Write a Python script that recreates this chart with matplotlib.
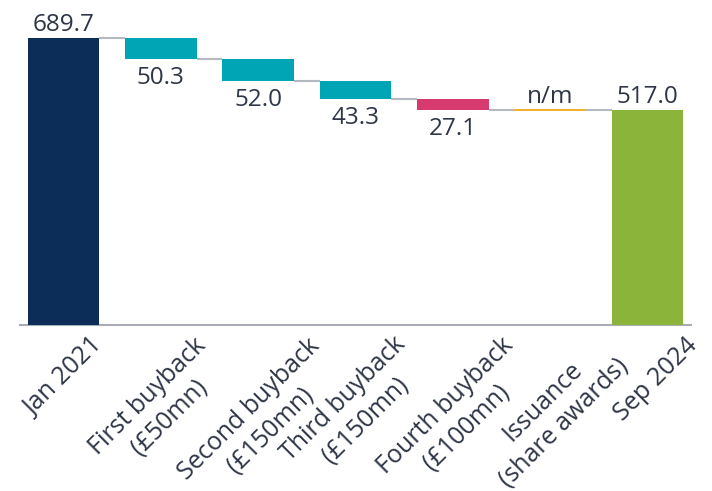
import matplotlib
matplotlib.use("Agg")
import numpy as np
import matplotlib.pyplot as plt
from matplotlib.transforms import ScaledTranslation

plt.rcParams['font.family'] = ['Open Sans', 'DejaVu Sans']

categories = ["Jan 2021", "First buyback\n(£50mn)", "Second buyback\n(£150mn)",
              "Third buyback\n(£150mn)", "Fourth buyback\n(£100mn)",
              "Issuance\n(share awards)", "Sep 2024"]
values = [689.7, -50.3, -52.0, -43.3, -27.1, 0.0, 517.0]
is_total = [True, False, False, False, False, False, True]
value_labels = ["689.7", "50.3", "52.0", "43.3", "27.1", "n/m", "517.0"]
bar_colors = ["#0b2d58", "#00a5b5", "#00a5b5", "#00a5b5", "#d63a6e", "#f0a81c", "#8ab43a"]

# layout: where each rotated tick label's ink ends (right edge, top edge),
# in pixels right of its tick and below the baseline
label_ink_px = [(33.5, 12), (45.2, 13), (59.8, 13), (52.5, 12), (59.2, 13), (77.8, 33), (47.5, 11)]

TXT = "#2d3546"
W, H, DPI = 7.12, 4.91, 100
TICK_FS = 18
VAL_FS = 17.5
PITCH = 30.0  # px between label lines
ANG = np.deg2rad(45)
LINE_KW = dict(rotation=45, rotation_mode='anchor', ha='center', va='baseline',
               fontsize=TICK_FS, color=TXT)


def add_label(fig, base_tr, label, dx=0.0, dy=0.0):
    """Draw a rotated, centre-aligned multi-line label; dx, dy in px (right, down)."""
    texts = []
    for j, line in enumerate(label.split("\n")):
        ox = dx + j * PITCH * np.sin(ANG)
        oy = -dy - j * PITCH * np.cos(ANG)
        tr = base_tr + ScaledTranslation(ox / DPI, oy / DPI, fig.dpi_scale_trans)
        texts.append(fig.text(0, 0, line, transform=tr, **LINE_KW))
    return texts


def ink_offset(label):
    """Ink right/top of a rotated label relative to its reference point, screen px."""
    f = plt.figure(figsize=(W, H), dpi=DPI)
    f.patch.set_facecolor("white")
    base = f.transFigure + ScaledTranslation(0.5 * W, 0.75 * H, f.dpi_scale_trans)
    add_label(f, base, label)
    f.canvas.draw()
    buf = np.asarray(f.canvas.buffer_rgba())[:, :, :3].astype(int)
    plt.close(f)
    mask = buf.min(axis=2) < 170
    ys, xs = np.nonzero(mask)
    hpx = buf.shape[0]
    rx = 0.5 * W * DPI
    ry = hpx - 0.75 * H * DPI
    return xs.max() + 0.5 - rx, ys.min() - ry


fig = plt.figure(figsize=(W, H), dpi=DPI)
ax = fig.add_axes([20/712, (491-325)/491, (691-20)/712, 325/491])

x = list(range(len(categories)))
width = 0.735
running = 0.0
bottoms, heights, levels = [], [], []
for v, tot in zip(values, is_total):
    if tot:
        bottoms.append(0.0); heights.append(v); running = v
    else:
        new = running + v
        bottoms.append(min(running, new)); heights.append(abs(v)); running = new
    levels.append(running)

for i in x:
    if heights[i] == 0:
        ax.bar(i, heights[i], width, bottom=bottoms[i], color=bar_colors[i],
               edgecolor=bar_colors[i], linewidth=1.3, zorder=3)
    else:
        ax.bar(i, heights[i], width, bottom=bottoms[i], color=bar_colors[i],
               linewidth=0, zorder=3)

# connectors
for i in range(len(x) - 1):
    ax.plot([i + width/2, i + 1 - width/2], [levels[i], levels[i]],
            color="#b4b8c0", lw=1.5, zorder=2, solid_capstyle='butt')

# value labels
for i in x:
    top = bottoms[i] + heights[i]
    if is_total[i] or heights[i] == 0:
        ax.text(i, top, value_labels[i], ha='center', va='bottom', fontsize=VAL_FS,
                color=TXT, transform=ax.transData + ScaledTranslation(0, 1/DPI, fig.dpi_scale_trans))
    else:
        ax.text(i, bottoms[i], value_labels[i], ha='center', va='top', fontsize=VAL_FS,
                color=TXT, transform=ax.transData + ScaledTranslation(0, -7/DPI, fig.dpi_scale_trans))

ax.set_xlim(-0.447, 6.447)
ax.set_ylim(0, 689.7 * 325 / 287)
for s in ["top", "right", "left"]:
    ax.spines[s].set_visible(False)
ax.spines["bottom"].set_color("#a9acb4")
ax.spines["bottom"].set_linewidth(1.5)
ax.set_yticks([])
ax.set_xticks(x)
ax.set_xticklabels([])
ax.tick_params(axis='x', length=0)

for i, lab in enumerate(categories):
    tx, ty = label_ink_px[i]
    ix, iy = ink_offset(lab)
    base = ax.transData + ScaledTranslation(0, 0, fig.dpi_scale_trans)
    base = matplotlib.transforms.blended_transform_factory(ax.transData, ax.transData)
    tick_tr = ax.transData + ScaledTranslation(i * 0, 0, fig.dpi_scale_trans)
    # reference point at tick (i, 0) in data coordinates
    ref_tr = matplotlib.transforms.Affine2D().translate(i, 0) + ax.transData
    add_label(fig, ref_tr, lab, dx=tx - ix, dy=ty - iy)

fig.savefig("out.png", dpi=DPI)
